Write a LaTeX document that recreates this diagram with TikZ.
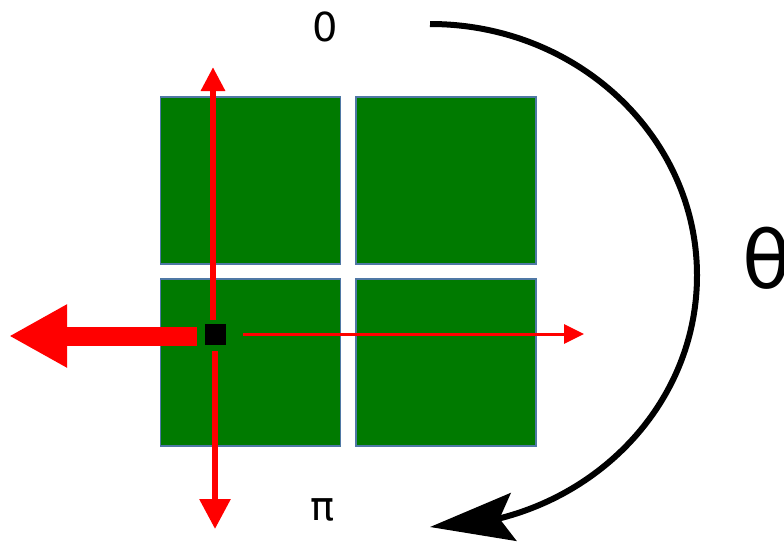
\documentclass[tikz,border=0pt]{standalone}
\usepackage{fontspec}
\setmainfont{DejaVu Sans}
\usetikzlibrary{arrows.meta,bending}
\definecolor{cellgreen}{RGB}{0,122,0}
\definecolor{cellborder}{RGB}{79,120,165}
\tikzset{
  cell/.style={draw=cellborder, line width=1.6pt, fill=cellgreen, minimum width=180pt, minimum height=167pt, inner sep=0pt},
  redline/.style={draw=red, line width=#1},
  lbl/.style={inner sep=0pt, font=\fontsize{40}{40}\selectfont}
}
\begin{document}
\begin{tikzpicture}[x=1pt,y=-1pt]
\useasboundingbox (0,0) rectangle (784,544);
\node[cell] (tl) at (250.5,180.5) {};
\node[cell] (tr) at (446,180.5) {};
\node[cell] (bl) at (250.5,362.5) {};
\node[cell] (br) at (446,362.5) {};
\node[fill=black, minimum size=21pt, inner sep=0pt] (pix) at (215.5,334.5) {};
\coordinate (upS) at (213,320);
\coordinate (upE) at (213,67);
\coordinate (dnS) at (215,351);
\coordinate (dnE) at (215,529);
\coordinate (lfS) at (197,336);
\coordinate (lfE) at (9,336);
\coordinate (rtS) at (243,334);
\coordinate (rtE) at (584,334);
\draw[redline=6pt, -{Triangle[length=24pt,width=23pt]}] (upS) -- (upE);
\draw[redline=6pt, -{Triangle[length=30pt,width=30pt]}] (dnS) -- (dnE);
\draw[redline=19pt, -{Triangle[length=58pt,width=59pt]}] (lfS) -- (lfE);
\draw[redline=3pt, -{Triangle[length=20pt,width=19pt]}] (rtS) -- (rtE);
\node[lbl] (zero) at (325,27) {0};
\node[lbl] (pi) at (323,510) {π};
\node[inner sep=0pt, font=\fontsize{80}{80}\selectfont, anchor=west] (theta) at (742,258) {θ};
\coordinate (arcS) at (430,24);
\draw[line width=6pt, -{Stealth[length=84pt,width=48pt,inset=14pt,flex]}] (arcS) arc[start angle=-90, end angle=90, x radius=267, y radius=251.5];
\end{tikzpicture}
\end{document}
